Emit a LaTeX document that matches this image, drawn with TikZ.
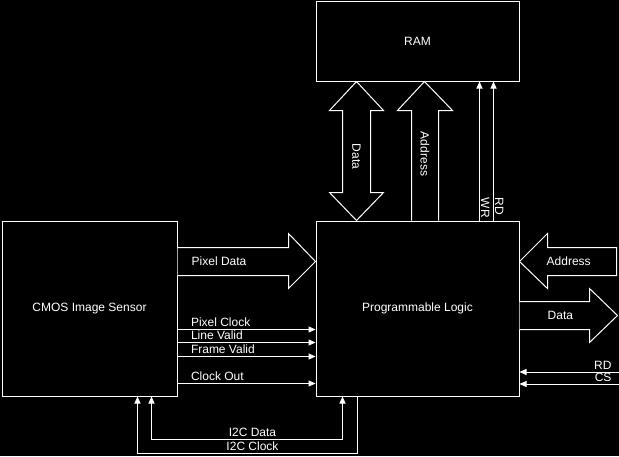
\documentclass[tikz,border=0pt]{standalone}
\usepackage{fontspec}
\setmainfont{Liberation Sans}
\usetikzlibrary{positioning,arrows.meta,calc}

\begin{document}
\begin{tikzpicture}[
  x=1pt, y=-1pt,
  font=\fontsize{12}{14}\selectfont,
  >={Triangle[length=7pt,width=6pt]},
  blk/.style  = {draw=white, text=white, line width=1pt, inner sep=0pt,
                 minimum width=#1},
  fat/.style  = {draw=white, fill=black, line width=1pt},
  sig/.style  = {->, draw=white, line width=1pt},
  lbl/.style  = {text=white, inner sep=0pt},
  vlbl/.style = {lbl, rotate=-90}
]

% black page, fixed size
\fill[black] (0,0) rectangle (619,456);
\useasboundingbox (0,0) rectangle (619,456);

% ============================ blocks ======================================
\node[blk=175pt, minimum height=175pt] (cmos) at (89.5,308.5)
  {CMOS Image Sensor};
\node[blk=203pt, minimum height=175pt, right=138pt of cmos] (pl)
  {Programmable Logic};
\node[blk=203pt, minimum height=80pt, above=139pt of pl] (ram) {RAM};

% ======================= RAM <-> programmable logic =======================
\filldraw[fat] ($(ram.south west)+(41,0)$) -- ++(27,29) -- ++(-13,0)
  -- ++(0,82) -- ++(13,0) -- ++(-27,28) -- ++(-27,-28) -- ++(13,0)
  -- ++(0,-82) -- ++(-13,0) -- cycle;
\node[vlbl] (ramdata) at ($(ram.south west)+(41,75)$) {Data};

\filldraw[fat] ($(pl.north west)+(96,0)$) -- ++(0,-110) -- ++(-14,0)
  -- ++(27,-29) -- ++(28,29) -- ++(-14,0) -- ++(0,110);
\node[vlbl] (ramaddr) at ($(ram.south west)+(109.5,72.5)$) {Address};

\draw[sig] ($(pl.north west)+(164,0)$) -- ($(ram.south west)+(164,0)$);
\draw[sig] ($(pl.north west)+(178,0)$) -- ($(ram.south west)+(178,0)$);
\node[vlbl, anchor=base west] (ramwr) at ($(pl.north west)+(165.5,-23)$) {WR};
\node[vlbl, anchor=base west] (ramrd) at ($(pl.north west)+(179.5,-23)$) {RD};

% ===================== sensor -> programmable logic =======================
\filldraw[fat] ($(cmos.north east)+(0,27)$) -- ++(111,0) -- ++(0,-14)
  -- ($(pl.north west)+(0,41)$) -- ++(-27,27) -- ++(0,-13) -- ++(-111,0);
\node[lbl, anchor=west] (pixdata) at ($(cmos.north east)+(14,41)$) {Pixel Data};

\draw[sig] ($(cmos.north east)+(0,109)$) -- ($(pl.north west)+(0,109)$)
  node[lbl, pos=0, anchor=base west, xshift=13pt, yshift=3pt] (pixclk) {Pixel Clock};
\draw[sig] ($(cmos.north east)+(0,122)$) -- ($(pl.north west)+(0,122)$)
  node[lbl, pos=0, anchor=base west, xshift=13pt, yshift=3pt] (lineval) {Line Valid};
\draw[sig] ($(cmos.north east)+(0,136)$) -- ($(pl.north west)+(0,136)$)
  node[lbl, pos=0, anchor=base west, xshift=13pt, yshift=3pt] (frameval) {Frame Valid};
\draw[sig] ($(cmos.north east)+(0,163)$) -- ($(pl.north west)+(0,163)$)
  node[lbl, pos=0, anchor=base west, xshift=13pt, yshift=3pt] (clkout) {Clock Out};

% I2C back to the sensor
\draw[sig, <->] ($(pl.south west)+(27,0)$) -- ++(0,43)
  -| ($(cmos.south west)+(150,0)$);
\draw[sig] ($(pl.south west)+(42,0)$) -- ++(0,57)
  -| ($(cmos.south west)+(136,0)$);
\node[lbl, anchor=base] (i2cdata) at ($(cmos.south west)+(251,40)$) {I2C Data};
\node[lbl, anchor=base] (i2cclk) at ($(cmos.south west)+(251,53.5)$) {I2C Clock};

% ========================== host side (right) =============================
\filldraw[fat] ($(pl.north east)+(97,27)$) -- ++(-69,0) -- ++(0,-14)
  -- ($(pl.north east)+(0,41)$) -- ++(28,27) -- ++(0,-13) -- ++(69,0)
  -- cycle;
\node[lbl, anchor=west] (hostaddr) at ($(pl.north east)+(27,41)$) {Address};

\filldraw[fat] ($(pl.north east)+(0,81)$) -- ++(70,0) -- ++(0,-13)
  -- ++(28,27) -- ++(-28,27) -- ++(0,-13) -- ++(-70,0);
\node[lbl, anchor=west] (hostdata) at ($(pl.north east)+(28,95)$) {Data};

\coordinate (rdin) at (619,372);
\coordinate (csin) at (619,384);
\draw[sig] (rdin) -- (pl.east |- rdin)
  node[lbl, pos=0, anchor=base east, xshift=-7pt, yshift=3pt] (hostrd) {RD};
\draw[sig] (csin) -- (pl.east |- csin)
  node[lbl, pos=0, anchor=base east, xshift=-7pt, yshift=3pt] (hostcs) {CS};

\end{tikzpicture}
\end{document}
